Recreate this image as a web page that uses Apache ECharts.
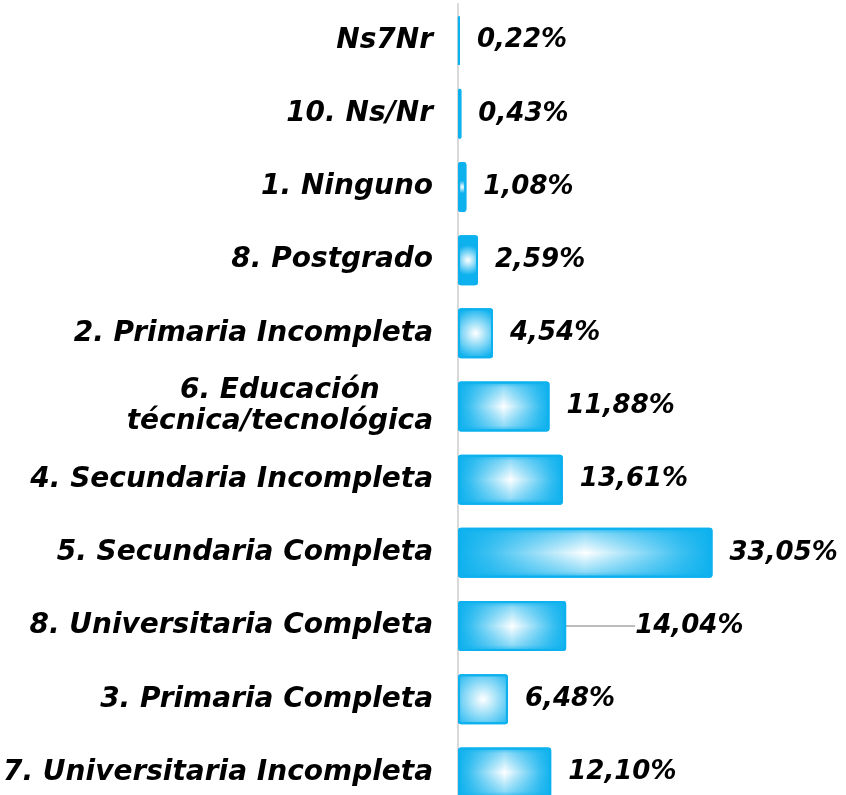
<!DOCTYPE html>
<html>
<head>
<meta charset="utf-8">
<script src="https://cdn.jsdelivr.net/npm/echarts@6/dist/echarts.min.js"></script>
<style>
	html, body { margin: 0; padding: 0; background: #fff; overflow: hidden; }
	#chart { width: 846px; height: 809px; }
</style>
</head>
<body>
<div id="chart"></div>
<script>
	// categorias, de arriba hacia abajo
	const categorias = [
		'Ns7Nr',
		'10. Ns/Nr',
		'1. Ninguno',
		'8. Postgrado',
		'2. Primaria Incompleta',
		'6. Educación\ntécnica/tecnológica',
		'4. Secundaria Incompleta',
		'5. Secundaria Completa',
		'8. Universitaria Completa',
		'3. Primaria Completa',
		'7. Universitaria Incompleta'
	]
	const porcentajes = [0.22, 0.43, 1.08, 2.59, 4.54, 11.88, 13.61, 33.05, 14.04, 6.48, 12.10]
	// etiqueta desplazada con linea guia
	const etiquetaDesplazada = 8

	const fuente = "'DejaVu Sans', sans-serif"
	const azul = '#0db1ee'
	const chart = echarts.init(document.getElementById('chart'))

	const textoBase = {
		color: '#000',
		fontFamily: fuente,
		fontWeight: 'bold',
		fontStyle: 'italic'
	}

	// barras cortas: brillo redondo
	const radial = {
		type: 'radial',
		x: 0.5,
		y: 0.5,
		r: 0.75,
		colorStops: [
			{ offset: 0, color: '#ffffff' },
			{ offset: 1, color: azul }
		]
	}
	// barras largas: brillo alargado
	const horizontal = {
		type: 'linear',
		x: 0, y: 0, x2: 1, y2: 0,
		colorStops: [
			{ offset: 0, color: azul },
			{ offset: 0.12, color: '#3cc0f1' },
			{ offset: 0.5, color: '#ffffff' },
			{ offset: 0.88, color: '#3cc0f1' },
			{ offset: 1, color: azul }
		]
	}
	const vertical = {
		type: 'linear',
		x: 0, y: 0, x2: 0, y2: 1,
		colorStops: [
			{ offset: 0, color: 'rgba(13,177,238,0.9)' },
			{ offset: 0.12, color: 'rgba(13,177,238,0.45)' },
			{ offset: 0.5, color: 'rgba(13,177,238,0)' },
			{ offset: 0.88, color: 'rgba(13,177,238,0.45)' },
			{ offset: 1, color: 'rgba(13,177,238,0.9)' }
		]
	}
	const esCorta = (v) => v < 8

	const option = {
		animation: false,
		grid: {
			left: 457,
			right: 3,
			top: 4,
			bottom: 0
		},
		xAxis: {
			type: 'value',
			min: 0,
			max: 50,
			show: false
		},
		yAxis: {
			type: 'category',
			inverse: true,
			data: categorias,
			axisLine: { lineStyle: { color: '#d9d9d9', width: 2 } },
			axisTick: { show: false },
			axisLabel: {
				...textoBase,
				margin: 25,
				fontSize: 28,
				lineHeight: 31,
				formatter: (v) => {
					if (v.indexOf('\n') < 0) return v
					return v.split('\n').map((l) => '{c|' + l + '}').join('\n')
				},
				rich: {
					c: { ...textoBase, align: 'center', fontSize: 28, lineHeight: 31 }
				}
			}
		},
		series: [
			{
				type: 'bar',
				data: porcentajes.map((v, i) => ({
					value: v,
					itemStyle: { color: esCorta(v) ? radial : horizontal },
					labelLine: { show: i === etiquetaDesplazada }
				})),
				barWidth: 50,
				itemStyle: {
					borderColor: azul,
					borderWidth: 2,
					borderRadius: 2
				},
				label: {
					...textoBase,
					show: true,
					position: 'right',
					distance: 17,
					fontSize: 26,
					formatter: (p) => p.value.toFixed(2).replace('.', ',') + '%'
				},
				labelLine: {
					show: false,
					lineStyle: { color: '#a6a6a6', width: 1.5 }
				},
				labelLayout: (p) => (p.dataIndex === etiquetaDesplazada ? { dx: 52 } : {})
			},
			{
				// capa vertical para el brillo de las barras largas
				type: 'bar',
				data: porcentajes.map((v) => ({
					value: v,
					itemStyle: { color: esCorta(v) ? 'rgba(0,0,0,0)' : vertical }
				})),
				barWidth: 50,
				barGap: '-100%',
				silent: true,
				itemStyle: {
					borderColor: azul,
					borderWidth: 2,
					borderRadius: 2
				}
			}
		]
	}

	chart.setOption(option)
</script>
</body>
</html>
